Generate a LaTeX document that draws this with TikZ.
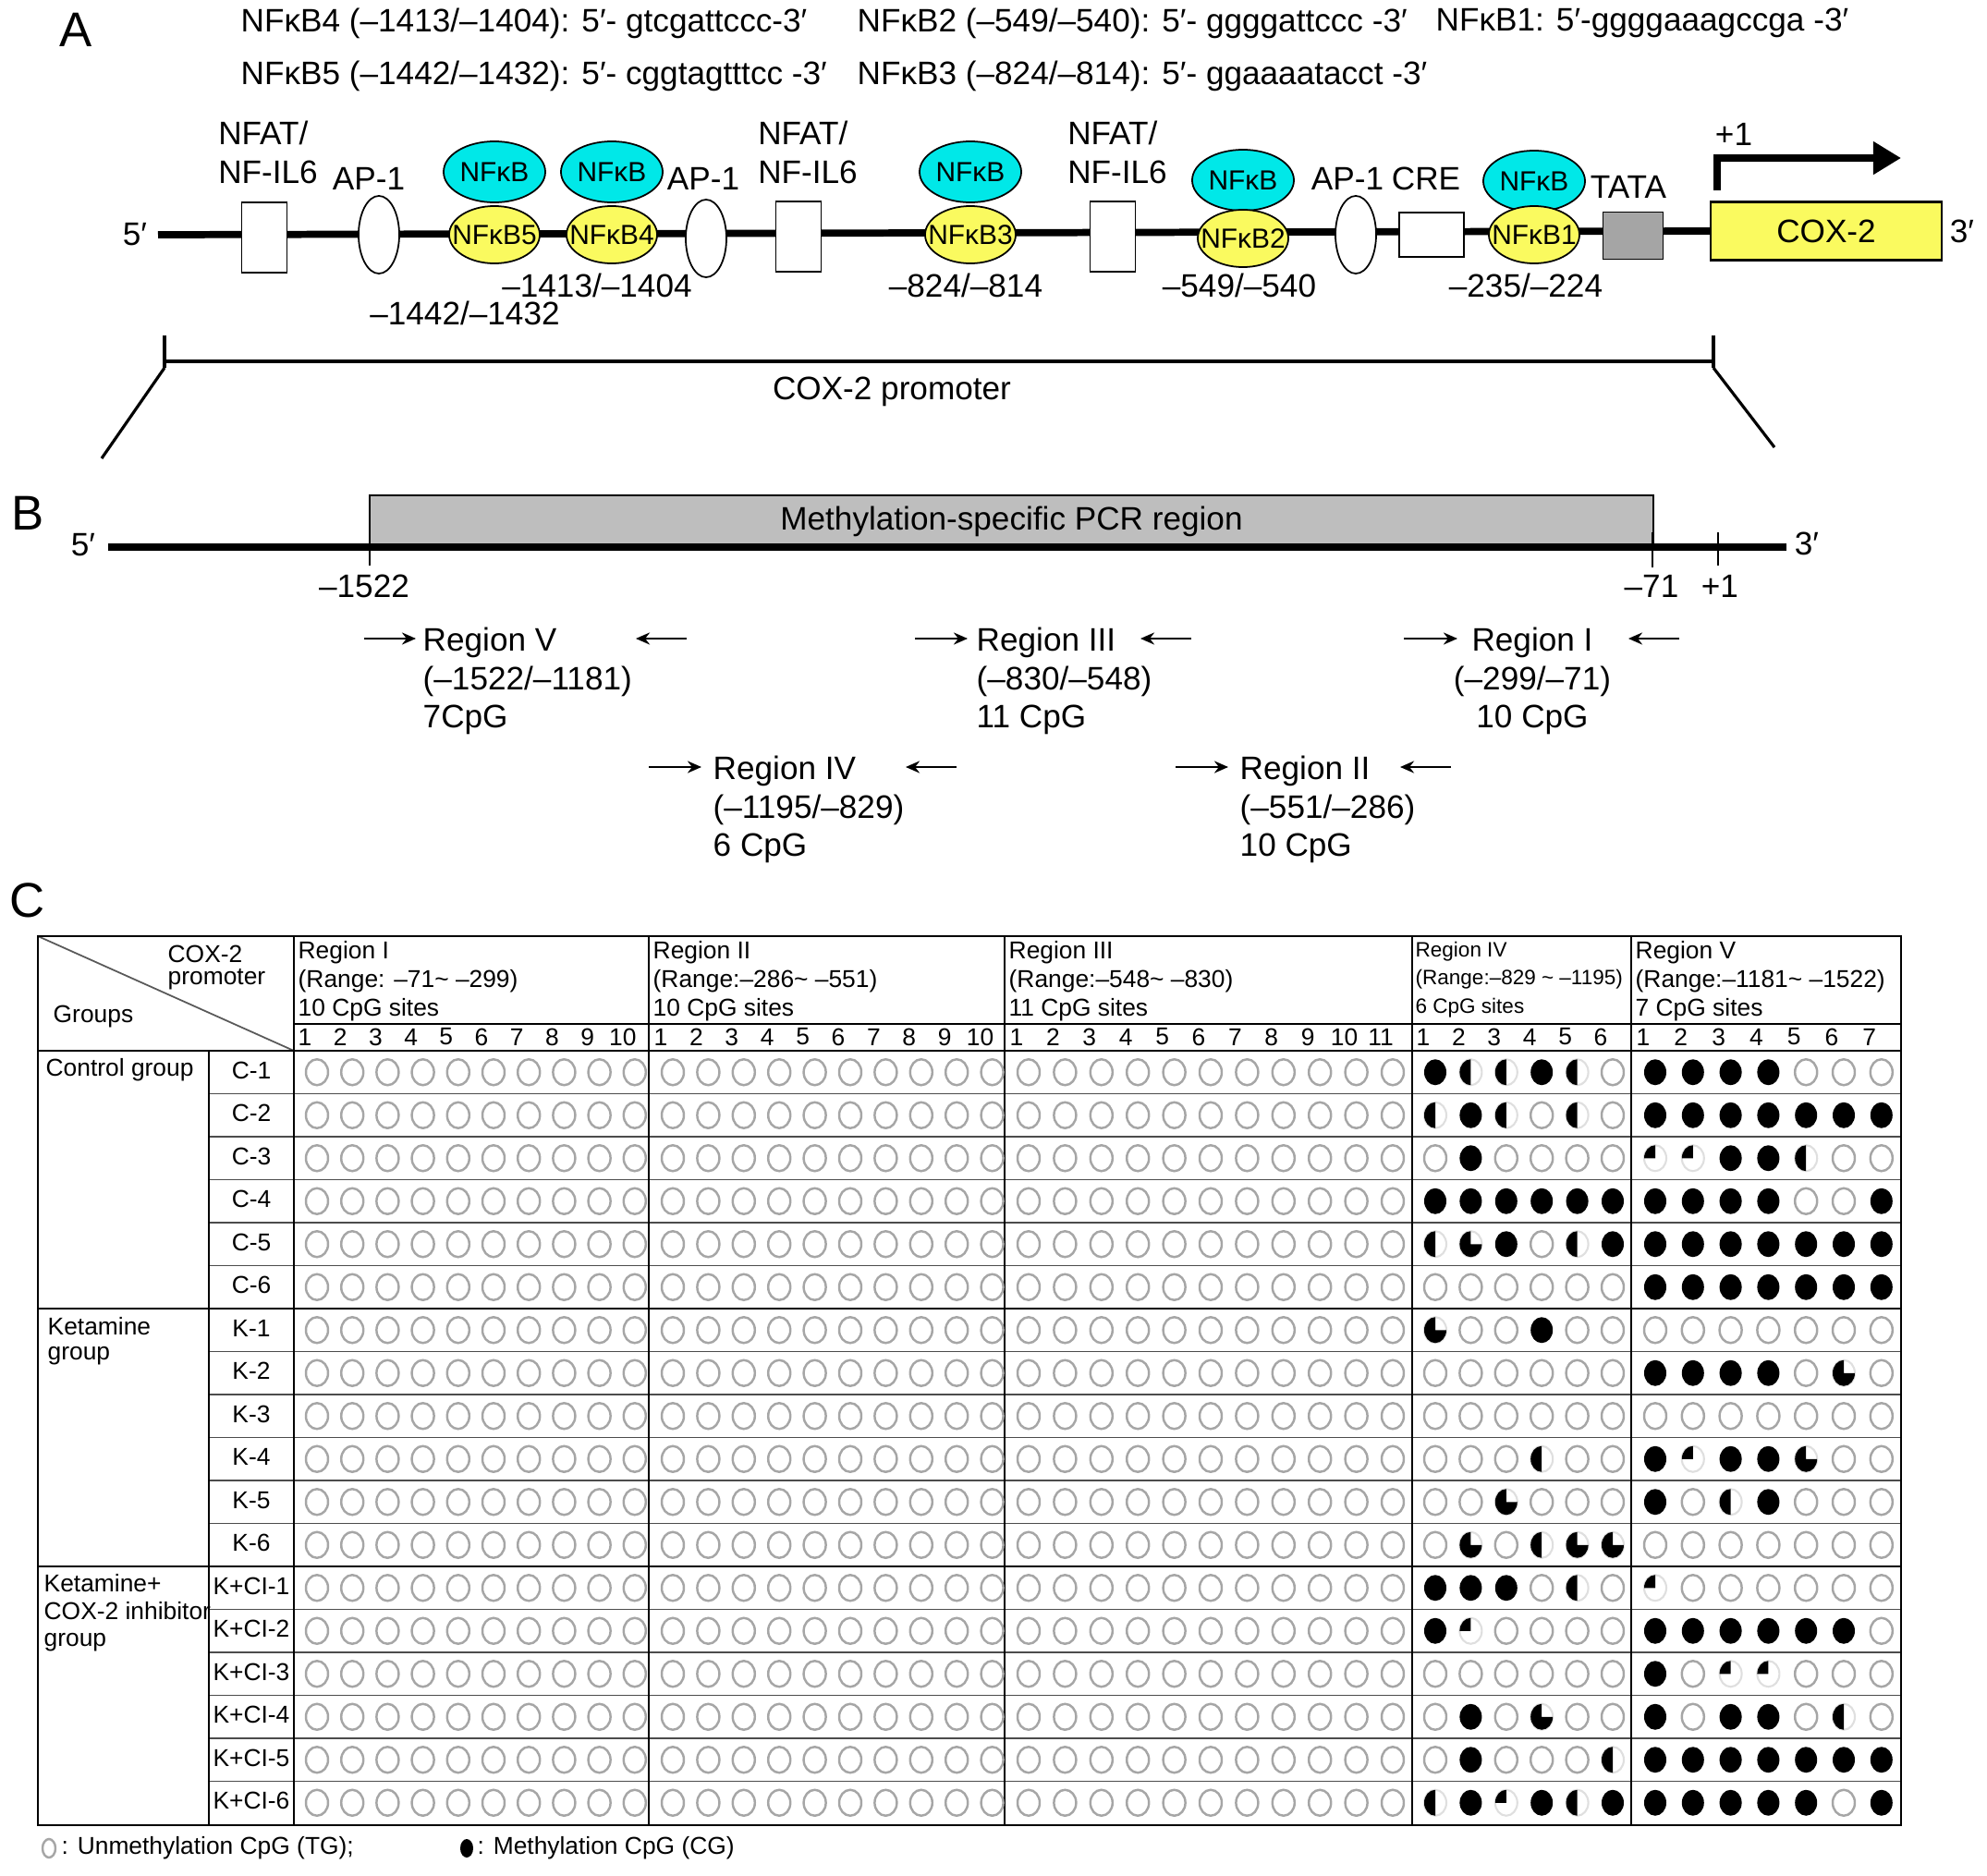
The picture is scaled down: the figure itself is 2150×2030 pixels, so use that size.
\documentclass[tikz,border=0pt]{standalone}
\usepackage{fontspec}
\setmainfont{Liberation Sans}
\usetikzlibrary{arrows.meta,shapes.geometric}

\definecolor{nfcyan}{RGB}{0,232,232}
\definecolor{nfyellow}{RGB}{250,250,95}
\definecolor{tatagray}{RGB}{165,165,165}
\definecolor{pcrgray}{RGB}{190,190,190}

% codes of a CpG site: 0 empty, 1 methylated, h half, t three quarters, q quarter
\def\cpgfull{1}
\def\cpghalf{h}
\def\cpgthree{t}
\def\cpgquart{q}
\newcommand{\cpgsite}[3]{%
  \edef\cpgcode{#1}%
  \ifx\cpgcode\cpgfull
    \fill (#2,#3) ellipse [x radius=12, y radius=14];
  \else\ifx\cpgcode\cpghalf
    \draw[faint] (#2,#3) ellipse [x radius=12, y radius=14];
    \fill (#2,#3) ++(0,14) arc[start angle=90, end angle=270, x radius=12, y radius=14] -- cycle;
  \else\ifx\cpgcode\cpgthree
    \draw[faint] (#2,#3) ellipse [x radius=12, y radius=14];
    \fill (#2,#3) -- ++(12,0) arc[start angle=0, end angle=270, x radius=12, y radius=14] -- cycle;
  \else\ifx\cpgcode\cpgquart
    \draw[faint] (#2,#3) ellipse [x radius=12, y radius=14];
    \fill (#2,#3) -- ++(-12,0) arc[start angle=180, end angle=270, x radius=12, y radius=14] -- cycle;
  \else
    \draw[unm] (#2,#3) ellipse [x radius=12, y radius=14];
  \fi\fi\fi\fi}

\begin{document}
\begin{tikzpicture}[x=0.01cm, y=-0.01cm,
    every node/.style={inner sep=0pt},
    txt/.style={font=\fontsize{10}{11.9}\selectfont},
    tab/.style={font=\fontsize{7.5}{8.8}\selectfont},
    panel/.style={font=\fontsize{15}{18}\selectfont},
    dna/.style={line width=2.2pt},
    site/.style={draw, fill=white, line width=0.5pt, minimum width=0.49cm, minimum height=0.76cm},
    ap/.style={draw, fill=white, ellipse, line width=0.5pt, minimum width=0.44cm, minimum height=0.84cm},
    nfkb/.style={draw, fill=nfcyan, ellipse, line width=0.5pt, minimum width=1.1cm, minimum height=0.66cm},
    nfsite/.style={draw, fill=nfyellow, ellipse, line width=0.5pt, minimum width=0.98cm, minimum height=0.62cm},
    primer/.style={line width=0.8pt, -{Stealth[length=0.15cm, width=0.13cm]}},
    unm/.style={draw=gray!70, line width=0.7pt},
    faint/.style={draw=gray!25, line width=0.6pt},
    frame/.style={line width=0.8pt},
    rowsep/.style={draw=gray!60!black, line width=0.5pt}]
  \useasboundingbox (0,0) rectangle (2150,2030);

  % ---------------- A ----------------
  \node[panel] (pA) at (82,32) {A};
  \node[txt, anchor=west] (seq4) at (260,25) {NFκB4 (–1413/–1404): 5′- gtcgattccc-3′};
  \node[txt, anchor=west] (seq2) at (927,25) {NFκB2 (–549/–540): 5′- ggggattccc -3′};
  \node[txt, anchor=west] (seq1) at (1553,25) {NFκB1: 5′-ggggaaagccga -3′};
  \node[txt, anchor=west] (seq5) at (260,82) {NFκB5 (–1442/–1432): 5′- cggtagtttcc -3′};
  \node[txt, anchor=west] (seq3) at (927,82) {NFκB3 (–824/–814): 5′- ggaaaatacct -3′};

  \node[txt] (a5) at (146,254) {5′};
  \coordinate (dnaL) at (171,254);
  \node[draw, fill=nfyellow, line width=0.6pt, minimum width=2.5cm, minimum height=0.63cm, txt] (cox) at (1976,250) {COX-2};
  \node[txt] (a3) at (2123,250) {3′};
  \draw[dna] (dnaL) -- (cox.west);

  \node[site] (nfat1) at (286,257) {};
  \node[site] (nfat2) at (864,256) {};
  \node[site] (nfat3) at (1204,256) {};
  \node[ap] (ap1) at (410,254) {};
  \node[ap] (ap2) at (764,258) {};
  \node[ap] (ap3) at (1467,254) {};
  \node[site, minimum width=0.7cm, minimum height=0.48cm] (cre) at (1549,254) {};
  \node[site, fill=tatagray, minimum width=0.65cm, minimum height=0.51cm] (tata) at (1767,255) {};

  \foreach \x/\yc/\ys/\n in {535/186/254/5, 662/186/254/4, 1050/186/254/3, 1345/195/258/2, 1660/196/254/1}{
    \node[nfkb, label={[font=\fontsize{8.5}{10}\selectfont]center:NFκB}] (kb\n) at (\x,\yc) {};
    \node[nfsite, label={[font=\fontsize{8.5}{10}\selectfont]center:NFκB\n}] (nf\n) at (\x,\ys) {};
  }

  \node[txt, align=left] (lnfat1) at (290,165) {NFAT/\\NF-IL6};
  \node[txt, align=left] (lnfat2) at (874,165) {NFAT/\\NF-IL6};
  \node[txt, align=left] (lnfat3) at (1209,165) {NFAT/\\NF-IL6};
  \node[txt] (lap1) at (399,193) {AP-1};
  \node[txt] (lap2) at (761,193) {AP-1};
  \node[txt] (lap3) at (1458,193) {AP-1};
  \node[txt] (lcre) at (1543,193) {CRE};
  \node[txt] (ltata) at (1762,202) {TATA};
  \node[txt] (lplus) at (1876,145) {+1};

  \node[txt] (pos5) at (503,339) {–1442/–1432};
  \node[txt] (pos4) at (646,309) {–1413/–1404};
  \node[txt] (pos3) at (1045,309) {–824/–814};
  \node[txt] (pos2) at (1341,309) {–549/–540};
  \node[txt] (pos1) at (1651,309) {–235/–224};

  \coordinate (tss) at (1858,206);
  \draw[line width=2.2pt, -{Triangle[length=0.3cm, width=0.34cm]}] (tss) -- (1858,171) -- (2057,171);

  % promoter bracket
  \coordinate (brL) at (178,398);
  \coordinate (brR) at (1854,398);
  \draw[line width=0.9pt] (178,363) -- (brL) (1854,363) -- (brR) (178,391) -- (1854,391);
  \draw[line width=0.9pt] (brL) -- (110,496) (brR) -- (1920,484);
  \node[txt] (prom) at (965,424) {COX-2 promoter};

  % ---------------- B ----------------
  \node[panel] (pB) at (30,555) {B};
  \node[draw, fill=pcrgray, line width=0.6pt, minimum width=13.89cm, minimum height=0.56cm, txt] (pcr) at (1094.5,564) {Methylation-specific PCR region};
  \node[txt] (b5) at (90,590) {5′};
  \node[txt] (b3) at (1955,588) {3′};
  \draw[dna] (117,592) -- (1933,592);
  \draw[line width=0.6pt] (400,576) -- (400,612) (1788,576) -- (1788,614) (1859,576) -- (1859,612);
  \node[txt] (m1522) at (394,634) {–1522};
  \node[txt] (m71) at (1787,634) {–71};
  \node[txt] (p1) at (1861,634) {+1};

  \node[txt, anchor=north west, align=left] (rV) at (457,678) {Region V\\(–1522/–1181)\\7CpG};
  \node[txt, anchor=north west, align=left] (rIII) at (1056,678) {Region III\\(–830/–548)\\11 CpG};
  \node[txt, anchor=north, align=center] (rI) at (1658,678) {Region I\\(–299/–71)\\10 CpG};
  \node[txt, anchor=north west, align=left] (rIV) at (771,817) {Region IV\\(–1195/–829)\\6 CpG};
  \node[txt, anchor=north west, align=left] (rII) at (1341,817) {Region II\\(–551/–286)\\10 CpG};
  \draw[primer] (394,691) -- (450,691);
  \draw[primer] (743,691) -- (688,691);
  \draw[primer] (990,691) -- (1047,691);
  \draw[primer] (1289,691) -- (1234,691);
  \draw[primer] (1519,691) -- (1577,691);
  \draw[primer] (1817,691) -- (1762,691);
  \draw[primer] (702,830) -- (759,830);
  \draw[primer] (1035,830) -- (980,830);
  \draw[primer] (1272,830) -- (1329,830);
  \draw[primer] (1570,830) -- (1515,830);

  % ---------------- C ----------------
  \node[panel] (pC) at (30,974) {C};
  \draw[gray!70!black, line width=0.5pt] (41,1013) -- (318,1137);
  \foreach \k in {1,...,17}{
    \draw[rowsep] (226,{1137+46.5*\k}) -- (2057,{1137+46.5*\k});
  }
  \draw[frame] (41,1416) -- (2057,1416) (41,1695) -- (2057,1695);
  \draw[line width=0.6pt] (226,1137) -- (226,1975);
  \foreach \x in {318,702,1087,1528,1765}{
    \draw[line width=0.6pt] (\x,1013) -- (\x,1975);
  }
  \draw[frame] (318,1108) -- (2057,1108) (41,1137) -- (2057,1137);
  \draw[frame] (41,1013) rectangle (2057,1975);

  \node[tab, anchor=north west, align=left, font=\fontsize{7.5}{7}\selectfont] (hcox) at (181,1022) {COX-2\\promoter};
  \node[tab, anchor=west] (hgrp) at (57,1100) {Groups};
  \node[tab, anchor=north west, align=left] (hI) at (322,1018) {Region I\\(Range: –71\textasciitilde{} –299)\\10 CpG sites};
  \node[tab, anchor=north west, align=left] (hII) at (706,1018) {Region II\\(Range:–286\textasciitilde{} –551)\\10 CpG sites};
  \node[tab, anchor=north west, align=left] (hIII) at (1091,1018) {Region III\\(Range:–548\textasciitilde{} –830)\\11 CpG sites};
  \node[tab, anchor=north west, align=left, font=\fontsize{6.4}{8.8}\selectfont] (hIV) at (1531,1018) {Region IV\\(Range:–829 \textasciitilde{} –1195)\\6 CpG sites};
  \node[tab, anchor=north west, align=left] (hV) at (1769,1018) {Region V\\(Range:–1181\textasciitilde{} –1522)\\7 CpG sites};

  \foreach \i in {1,...,10}{
    \node[tab] at ({330+38.2*(\i-1)},1122) {\i};
    \node[tab] at ({715+38.4*(\i-1)},1122) {\i};
  }
  \foreach \i in {1,...,11}{\node[tab] at ({1100+39.4*(\i-1)},1122) {\i};}
  \foreach \i in {1,...,6}{\node[tab] at ({1540+38.4*(\i-1)},1122) {\i};}
  \foreach \i in {1,...,7}{\node[tab] at ({1778+40.8*(\i-1)},1122) {\i};}

  \node[tab, anchor=north west, align=left] (gC) at (49,1145) {Control group};
  \node[tab, anchor=north west, align=left, font=\fontsize{7.5}{7.7}\selectfont] (gK) at (51,1425) {Ketamine\\group};
  \node[tab, anchor=north west, align=left, font=\fontsize{7.5}{8.4}\selectfont] (gKC) at (47,1703) {Ketamine+\\COX-2 inhibitor\\group};

  \foreach \lab/\ivs/\vs [count=\r from 0] in {%
    C-1/{1,h,h,1,h,0}/{1,1,1,1,0,0,0},
    C-2/{h,1,h,0,h,0}/{1,1,1,1,1,1,1},
    C-3/{0,1,0,0,0,0}/{q,q,1,1,h,0,0},
    C-4/{1,1,1,1,1,1}/{1,1,1,1,0,0,1},
    C-5/{h,t,1,0,h,1}/{1,1,1,1,1,1,1},
    C-6/{0,0,0,0,0,0}/{1,1,1,1,1,1,1},
    K-1/{t,0,0,1,0,0}/{0,0,0,0,0,0,0},
    K-2/{0,0,0,0,0,0}/{1,1,1,1,0,t,0},
    K-3/{0,0,0,0,0,0}/{0,0,0,0,0,0,0},
    K-4/{0,0,0,h,0,0}/{1,q,1,1,t,0,0},
    K-5/{0,0,t,0,0,0}/{1,0,h,1,0,0,0},
    K-6/{0,t,0,h,t,t}/{0,0,0,0,0,0,0},
    K+CI-1/{1,1,1,0,h,0}/{q,0,0,0,0,0,0},
    K+CI-2/{1,q,0,0,0,0}/{1,1,1,1,1,1,0},
    K+CI-3/{0,0,0,0,0,0}/{1,0,q,q,0,0,0},
    K+CI-4/{0,1,0,t,0,0}/{1,0,1,1,0,h,0},
    K+CI-5/{0,1,0,0,0,h}/{1,1,1,1,1,1,1},
    K+CI-6/{h,1,q,1,h,1}/{1,1,1,1,1,0,1}}{
    \pgfmathsetmacro\yy{1160.25+46.5*\r}
    \node[tab] (smp\r) at (272,\yy-2) {\lab};
    \foreach \i in {0,...,9}{
      \draw[unm] ({343+38.2*\i},\yy) ellipse [x radius=12, y radius=14];
      \draw[unm] ({728+38.4*\i},\yy) ellipse [x radius=12, y radius=14];
    }
    \foreach \i in {0,...,10}{
      \draw[unm] ({1113+39.4*\i},\yy) ellipse [x radius=12, y radius=14];
    }
    \foreach \s [count=\i from 0] in \ivs {\cpgsite{\s}{1553+38.4*\i}{\yy}}
    \foreach \s [count=\i from 0] in \vs {\cpgsite{\s}{1791+40.8*\i}{\yy}}
  }

  % legend
  \draw[unm] (53,2000) ellipse [x radius=7, y radius=10];
  \node[tab, anchor=west] (leg0) at (66,2000) {: Unmethylation CpG (TG);};
  \fill (505,2000) ellipse [x radius=7, y radius=10];
  \node[tab, anchor=west] (leg1) at (516,2000) {: Methylation CpG (CG)};
\end{tikzpicture}
\end{document}
